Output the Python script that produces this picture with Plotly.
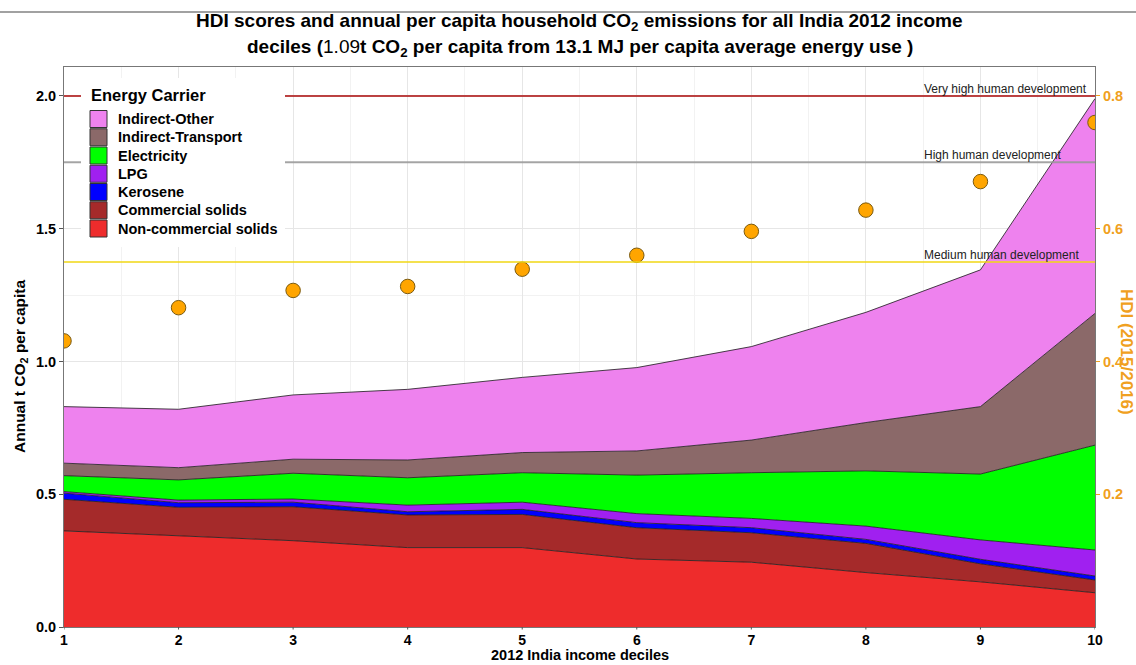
import plotly.graph_objects as go

# 2012 income deciles and household CO2 per capita by energy carrier (t CO2)
deciles = [1, 2, 3, 4, 5, 6, 7, 8, 9, 10]
non_commercial_solids = [0.362, 0.344, 0.325, 0.299, 0.299, 0.256, 0.244, 0.205, 0.170, 0.129]
commercial_solids = [0.119, 0.107, 0.128, 0.123, 0.125, 0.118, 0.111, 0.110, 0.068, 0.048]
kerosene = [0.023, 0.017, 0.017, 0.012, 0.019, 0.019, 0.019, 0.015, 0.017, 0.015]
lpg = [0.006, 0.010, 0.012, 0.025, 0.027, 0.034, 0.035, 0.050, 0.073, 0.098]
electricity = [0.060, 0.076, 0.097, 0.103, 0.111, 0.145, 0.172, 0.208, 0.248, 0.395]
indirect_transport = [0.047, 0.046, 0.053, 0.067, 0.076, 0.091, 0.123, 0.182, 0.254, 0.496]
indirect_other = [0.213, 0.220, 0.242, 0.266, 0.283, 0.314, 0.352, 0.415, 0.515, 0.809]

# HDI (2015/2016) per decile
hdi = [0.431, 0.481, 0.507, 0.513, 0.539, 0.560, 0.596, 0.628, 0.671, 0.760]

# HDI class thresholds
thresholds = [0.8, 0.7, 0.55]
threshold_labels = ["Very high human development", "High human development", "Medium human development"]
threshold_colors = ["rgba(178,34,34,0.85)", "rgba(150,150,150,0.85)", "rgba(240,215,20,0.75)"]

carriers = ["Non-commercial solids", "Commercial solids", "Kerosene", "LPG",
            "Electricity", "Indirect-Transport", "Indirect-Other"]
carrier_values = [non_commercial_solids, commercial_solids, kerosene, lpg,
                  electricity, indirect_transport, indirect_other]
carrier_colors = ["#EE2C2C", "#A52A2A", "#0000FF", "#A020F0",
                  "#00FF00", "#8B6969", "#EE82EE"]

W, H = 1136, 665
ML, MR, MT, MB = 64, 41, 67, 38
PW, PH = W - ML - MR, H - MT - MB
Y_TOP = 2.109
HDI_SCALE = 0.4
FONT = "Liberation Sans, Arial, sans-serif"
ORANGE = "#F0A020"


def px(xp):
    return (xp - ML) / PW


def py(yp):
    return (H - MB - yp) / PH


fig = go.Figure()

for name, vals, col in zip(carriers, carrier_values, carrier_colors):
    fig.add_trace(go.Scatter(
        x=deciles, y=vals, name=name, mode="lines", stackgroup="co2",
        line=dict(color="#1a1a1a", width=0.8), fillcolor=col, showlegend=False,
    ))

fig.add_trace(go.Scatter(
    x=deciles, y=hdi, yaxis="y2", mode="markers", name="HDI", showlegend=False,
    marker=dict(size=14.5, color="#FFA500", line=dict(color="#7a5a10", width=1)),
))

shapes = []
annotations = []

# threshold lines across the panel
for val, lab, col in zip(thresholds, threshold_labels, threshold_colors):
    shapes.append(dict(type="line", xref="paper", yref="y2", x0=0, x1=1, y0=val, y1=val,
                       line=dict(color=col, width=2), layer="above"))
    annotations.append(dict(x=8.49, y=val, xref="x", yref="y2", text=lab, showarrow=False,
                            xanchor="left", yanchor="bottom", yshift=-2,
                            font=dict(family=FONT, size=12, color="#222")))

# legend panel
shapes.append(dict(type="rect", xref="paper", yref="paper", x0=px(81), x1=px(285),
                   y0=py(247), y1=py(78), fillcolor="white", line=dict(width=0), layer="above"))
annotations.append(dict(x=px(89), y=py(95), xref="paper", yref="paper", text="<b>Energy Carrier</b>",
                        showarrow=False, xanchor="left", yanchor="middle",
                        font=dict(family=FONT, size=16.5, color="black")))
legend_order = list(zip(carriers, carrier_colors))[::-1]
for i, (name, col) in enumerate(legend_order):
    cy = 119 + i * 18.25
    shapes.append(dict(type="rect", xref="paper", yref="paper", x0=px(90), x1=px(107),
                       y0=py(cy + 8.5), y1=py(cy - 8.5), fillcolor=col,
                       line=dict(color="#333", width=1), layer="above"))
    annotations.append(dict(x=px(116), y=py(cy), xref="paper", yref="paper", text="<b>%s</b>" % name,
                            showarrow=False, xanchor="left", yanchor="middle",
                            font=dict(family=FONT, size=14.5, color="black")))

# rule across the top of the figure
shapes.append(dict(type="line", xref="paper", yref="paper", x0=px(0), x1=px(W), y0=py(12), y1=py(12),
                   line=dict(color="#444", width=1.2)))

# short tick marks under the x axis
for d in deciles:
    shapes.append(dict(type="line", xref="x", yref="paper", x0=d, x1=d, y0=0, y1=py(629.5),
                       line=dict(color="#555", width=1)))

# title lines
annotations.append(dict(x=0.5, y=py(22), xref="paper", yref="paper", showarrow=False,
                        text="<b>HDI scores and annual per capita household CO<sub>2</sub> emissions for all India 2012 income</b>",
                        xanchor="center", yanchor="middle", font=dict(family=FONT, size=19, color="black")))
annotations.append(dict(x=0.5, y=py(48), xref="paper", yref="paper", showarrow=False,
                        text="<b>deciles (</b>1.09<b>t CO<sub>2</sub> per capita from 13.1 MJ per capita average energy use )</b>",
                        xanchor="center", yanchor="middle", font=dict(family=FONT, size=19, color="black")))

# axis titles
annotations.append(dict(x=px(20), y=py(366), xref="paper", yref="paper", showarrow=False,
                        text="<b>Annual t CO<sub>2</sub> per capita</b>", textangle=-90,
                        xanchor="center", yanchor="middle", font=dict(family=FONT, size=15.5, color="black")))
annotations.append(dict(x=px(1127), y=py(352), xref="paper", yref="paper", showarrow=False,
                        text="<b>HDI (2015/2016)</b>", textangle=90,
                        xanchor="center", yanchor="middle", font=dict(family=FONT, size=17, color=ORANGE)))
annotations.append(dict(x=0.5, y=py(665), xref="paper", yref="paper", showarrow=False,
                        text="<b>2012 India income deciles</b>",
                        xanchor="center", yanchor="bottom", font=dict(family=FONT, size=14.5, color="black")))

fig.update_layout(
    width=W, height=H,
    margin=dict(l=ML, r=MR, t=MT, b=MB, pad=0),
    paper_bgcolor="white", plot_bgcolor="white",
    font=dict(family=FONT),
    showlegend=False,
    shapes=shapes, annotations=annotations,
    xaxis=dict(range=[1, 10], tickvals=deciles, ticktext=[str(d) for d in deciles],
               tickfont=dict(family=FONT, size=14, color="black", weight="bold"),
               ticks="",
               showgrid=True, gridcolor="#E6E6E6", gridwidth=1,
               minor=dict(dtick=0.5, showgrid=True, gridcolor="#F2F2F2", ticks=""),
               showline=True, linecolor="#777", linewidth=1, mirror=True, zeroline=False),
    yaxis=dict(range=[0, Y_TOP], tickvals=[0, 0.5, 1.0, 1.5, 2.0],
               ticktext=["0.0", "0.5", "1.0", "1.5", "2.0"],
               tickfont=dict(family=FONT, size=14.5, color="black", weight="bold"),
               ticks="outside", ticklen=4, tickcolor="#555",
               showgrid=True, gridcolor="#E6E6E6", gridwidth=1,
               minor=dict(dtick=0.25, showgrid=True, gridcolor="#F2F2F2", ticks=""),
               showline=True, linecolor="#777", linewidth=1, mirror=True, zeroline=False),
    yaxis2=dict(range=[0, Y_TOP * HDI_SCALE], overlaying="y", side="right",
                tickvals=[0.2, 0.4, 0.6, 0.8], ticktext=["0.2", "0.4", "0.6", "0.8"],
                tickfont=dict(family=FONT, size=14.5, color=ORANGE, weight="bold"),
                ticks="outside", ticklen=4, tickcolor=ORANGE,
                showgrid=False, zeroline=False, showline=False),
)

fig.write_html("out.html")
